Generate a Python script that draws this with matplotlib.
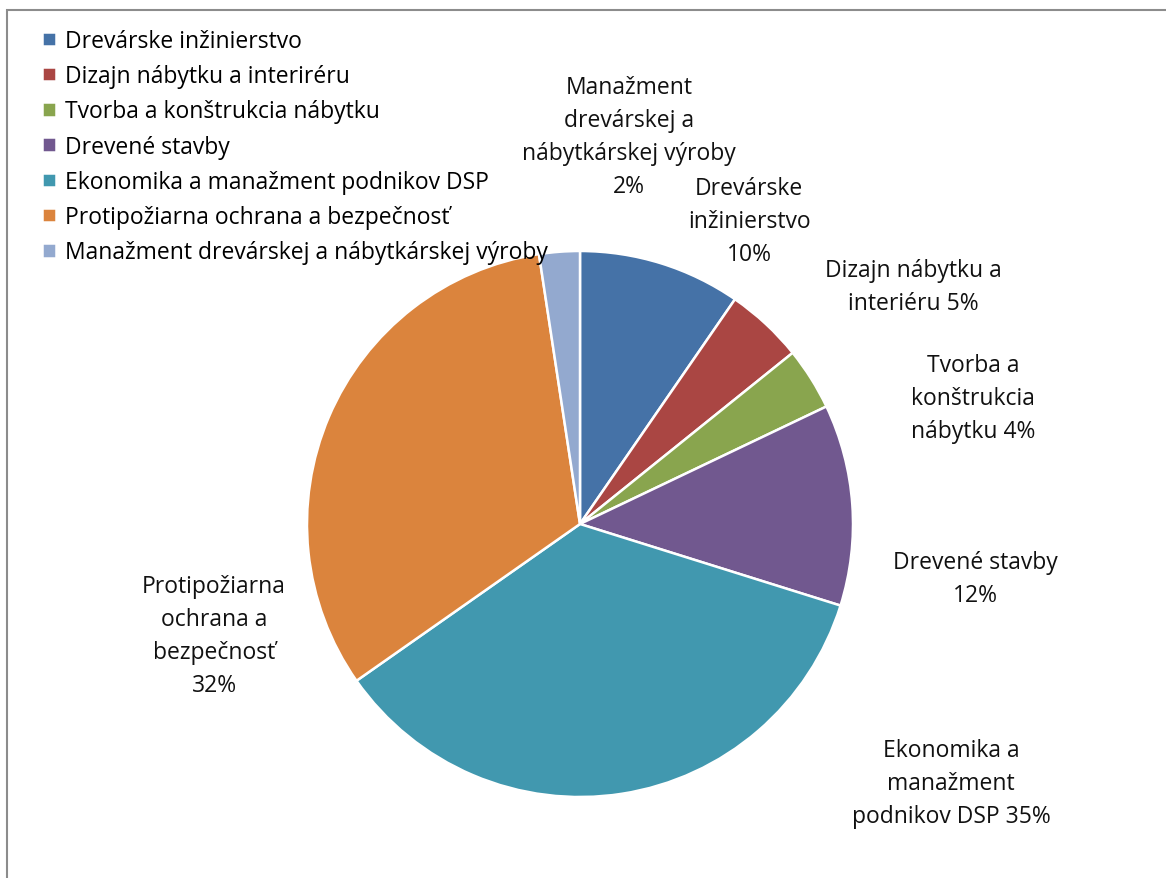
import numpy as np
import matplotlib.pyplot as plt
from matplotlib.patches import Rectangle

plt.rcParams['font.family'] = ['Open Sans', 'DejaVu Sans']

# share of students per study programme (%)
programmes = ['Drevárske inžinierstvo',
              'Dizajn nábytku a interiréru',
              'Tvorba a konštrukcia nábytku',
              'Drevené stavby',
              'Ekonomika a manažment podnikov DSP',
              'Protipožiarna ochrana a bezpečnosť',
              'Manažment drevárskej a nábytkárskej výroby']
shares = [9.6, 4.6, 3.7, 11.9, 35.4, 32.3, 2.4]
slice_labels = ['Drevárske\ninžinierstvo\n10%',
                'Dizajn nábytku a\ninteriéru 5%',
                'Tvorba a\nkonštrukcia\nnábytku 4%',
                'Drevené stavby\n12%',
                'Ekonomika a\nmanažment\npodnikov DSP 35%',
                'Protipožiarna\nochrana a\nbezpečnosť\n32%',
                'Manažment\ndrevárskej a\nnábytkárskej výroby\n2%']
colors = ['#4572A7', '#AA4643', '#89A54E', '#71588F', '#4198AF', '#DB843D', '#93A9CF']

# where the data labels sit (in pie radius units)
label_pos = [(0.62, 1.11), (1.22, 0.87), (1.44, 0.46), (1.45, -0.20),
             (1.36, -0.95), (-1.34, -0.41), (0.18, 1.42)]

W, H = 1166, 879
fig = plt.figure(figsize=(W / 100, H / 100), dpi=100)

# frame of the chart area (only top and left edges are visible)
fig.patches.append(Rectangle((6.5 / W, -0.1), 2, 1 - 10.5 / H + 0.1,
                             transform=fig.transFigure, fill=False,
                             edgecolor='#8c8c8c', linewidth=1.5))

cx, cy, r = 580, 525, 273
ax = fig.add_axes([(cx - r) / W, (H - cy - r) / H, 2 * r / W, 2 * r / H])
wedges, _ = ax.pie(shares, colors=colors, startangle=90, counterclock=False,
                   radius=1, wedgeprops=dict(edgecolor='white', linewidth=1.8))
ax.set_xlim(-1, 1)
ax.set_ylim(-1, 1)
ax.set_aspect('equal')
ax.axis('off')

for (x, y), txt in zip(label_pos, slice_labels):
    ax.text(x, y, txt, ha='center', va='center', fontsize=16.5,
            linespacing=1.5, color='#111111', clip_on=False)

fig.legend(wedges, programmes, loc='upper left', bbox_to_anchor=(42 / W, 1 - 30 / H),
           frameon=False, fontsize=16.5, handlelength=0.6, handleheight=0.6,
           handletextpad=0.42, labelspacing=0.49, borderpad=0, borderaxespad=0)

fig.savefig('out.png', dpi=100)
